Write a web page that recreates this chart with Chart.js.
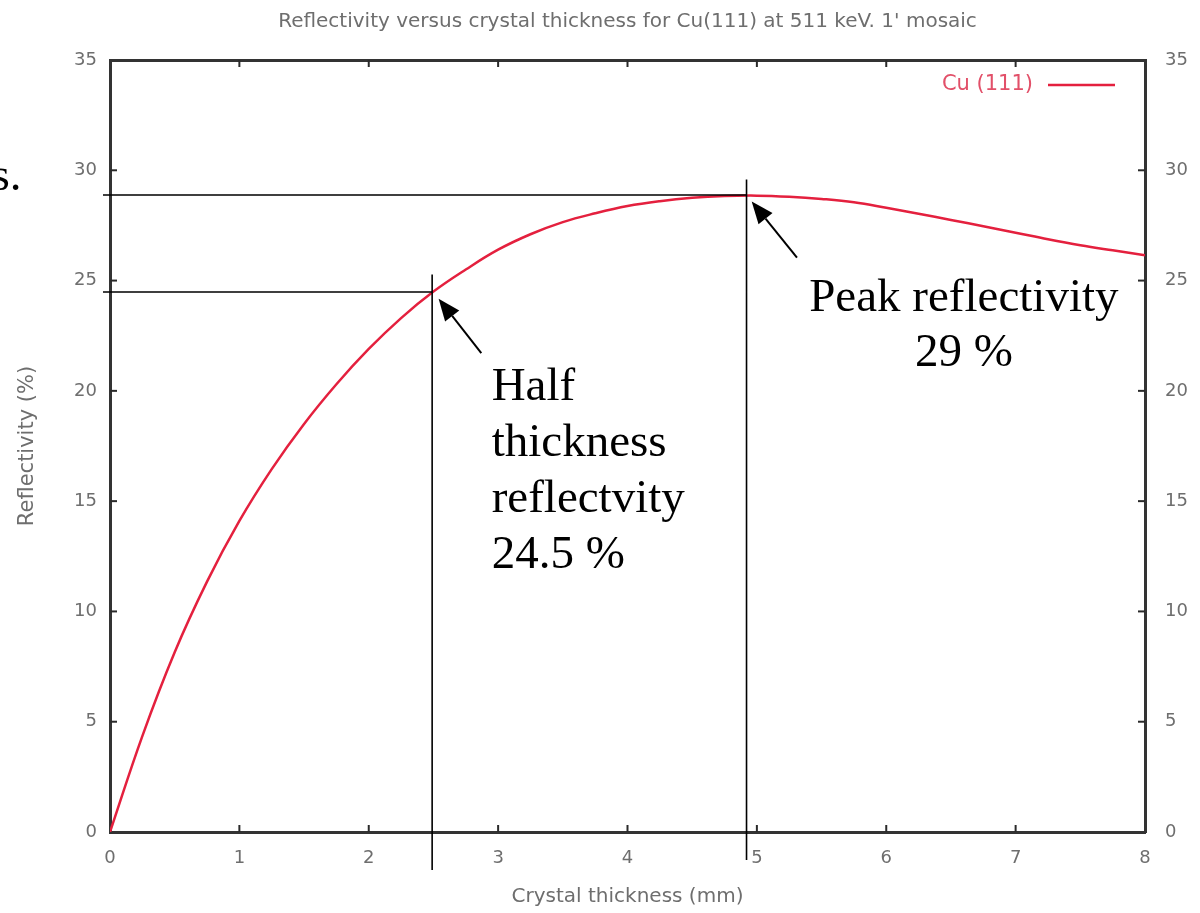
<!DOCTYPE html>
<html>
<head>
<meta charset="utf-8">
<script src="https://cdn.jsdelivr.net/npm/chart.js@4/dist/chart.umd.min.js"></script>
<style>
html,body{margin:0;padding:0;background:#fff;}
#wrap{width:1200px;height:913px;}
</style>
</head>
<body>
<div id="wrap"><canvas id="c" width="1200" height="913"></canvas></div>
<script>
// ---- data ----
const thickness = [0,0.25,0.5,0.75,1,1.25,1.5,1.75,2,2.25,2.5,2.75,3,3.25,3.5,3.75,4,4.25,4.5,4.75,5,5.25,5.5,5.75,6,6.25,6.5,6.75,7,7.25,7.5,7.75,8];
const reflectivity = [0,4.35,8.15,11.35,14.1,16.45,18.5,20.3,21.9,23.3,24.5,25.5,26.4,27.1,27.65,28.05,28.38,28.6,28.75,28.83,28.85,28.8,28.7,28.55,28.3,28.03,27.75,27.46,27.17,26.87,26.6,26.37,26.15];
const seriesLabel = 'Cu (111)';
const chartTitle = "Reflectivity versus crystal thickness for Cu(111) at 511 keV. 1' mosaic";
const xTitle = 'Crystal thickness (mm)';
const yTitle = 'Reflectivity (%)';
// marker points (thickness, reflectivity)
const halfPoint = [2.49, 24.48];
const peakPoint = [4.92, 28.88];
const halfText = ['Half','thickness','reflectvity','24.5 %'];
const peakText = ['Peak reflectivity','29 %'];

const sansFamily = 'DejaVu Sans, Verdana, sans-serif';
const axisFont = {family:sansFamily, size:18};
const gray = '#6e6e6e';
const red = 'rgb(228,32,62)';

const innerTicks = {
  id:'innerTicks',
  afterDraw(chart){
    const ctx = chart.ctx, a = chart.chartArea;
    ctx.save();
    ctx.strokeStyle = '#2a2a2a'; ctx.lineWidth = 2;
    const L = 7;
    for (const id of ['x','x2']) {
      const s = chart.scales[id];
      s.ticks.forEach(t => {
        if (t.value <= s.min || t.value >= s.max) return;
        const px = s.getPixelForValue(t.value);
        ctx.beginPath();
        if (id === 'x') { ctx.moveTo(px, a.bottom); ctx.lineTo(px, a.bottom - L); }
        else { ctx.moveTo(px, a.top); ctx.lineTo(px, a.top + L); }
        ctx.stroke();
      });
    }
    for (const id of ['y','y2']) {
      const s = chart.scales[id];
      s.ticks.forEach(t => {
        if (t.value <= s.min || t.value >= s.max) return;
        const py = s.getPixelForValue(t.value);
        ctx.beginPath();
        if (id === 'y') { ctx.moveTo(a.left, py); ctx.lineTo(a.left + L, py); }
        else { ctx.moveTo(a.right, py); ctx.lineTo(a.right - L, py); }
        ctx.stroke();
      });
    }
    ctx.restore();
  }
};

const keyLegend = {
  id:'keyLegend',
  afterDraw(chart){
    const ctx = chart.ctx, a = chart.chartArea;
    const ds = chart.data.datasets[0];
    const y = a.top + 25;
    const x1 = a.right - 30, x0 = x1 - 67;
    ctx.save();
    ctx.strokeStyle = ds.borderColor; ctx.lineWidth = 2.5;
    ctx.beginPath(); ctx.moveTo(x0, y); ctx.lineTo(x1, y); ctx.stroke();
    ctx.fillStyle = 'rgb(226,80,105)';
    ctx.font = '21px ' + sansFamily;
    ctx.textAlign = 'right'; ctx.textBaseline = 'middle';
    ctx.fillText(ds.label, x0 - 15, y);
    ctx.restore();
  }
};

function arrow(ctx, x0, y0, x1, y1){
  const ang = Math.atan2(y1 - y0, x1 - x0);
  const hl = 22, hw = 9;
  const bx = x1 - hl*Math.cos(ang), by = y1 - hl*Math.sin(ang);
  ctx.beginPath(); ctx.moveTo(x0, y0); ctx.lineTo(bx, by); ctx.stroke();
  ctx.beginPath();
  ctx.moveTo(x1, y1);
  ctx.lineTo(bx + hw*Math.sin(ang), by - hw*Math.cos(ang));
  ctx.lineTo(bx - hw*Math.sin(ang), by + hw*Math.cos(ang));
  ctx.closePath(); ctx.fill();
}

const notes = {
  id:'notes',
  afterDraw(chart){
    const ctx = chart.ctx, a = chart.chartArea;
    const X = v => chart.scales.x.getPixelForValue(v);
    const Y = v => chart.scales.y.getPixelForValue(v);
    ctx.save();
    ctx.strokeStyle = '#000'; ctx.fillStyle = '#000'; ctx.lineWidth = 1.6;
    // half thickness guide lines
    ctx.beginPath();
    ctx.moveTo(a.left - 7, Y(halfPoint[1])); ctx.lineTo(X(halfPoint[0]), Y(halfPoint[1]));
    ctx.moveTo(X(halfPoint[0]), Y(halfPoint[1] + 0.8)); ctx.lineTo(X(halfPoint[0]), Y(-1.72));
    // peak guide lines
    ctx.moveTo(a.left - 7, Y(peakPoint[1])); ctx.lineTo(X(peakPoint[0]), Y(peakPoint[1]));
    ctx.moveTo(X(peakPoint[0]), Y(peakPoint[1] + 0.7)); ctx.lineTo(X(peakPoint[0]), Y(-1.27));
    ctx.stroke();
    ctx.lineWidth = 2;
    arrow(ctx, X(halfPoint[0] + 0.38), Y(halfPoint[1] - 2.77), X(halfPoint[0] + 0.05), Y(halfPoint[1] - 0.3));
    arrow(ctx, X(peakPoint[0] + 0.39), Y(peakPoint[1] - 2.84), X(peakPoint[0] + 0.04), Y(peakPoint[1] - 0.3));
    // text
    ctx.font = '47px Liberation Serif, Times New Roman, serif';
    ctx.textBaseline = 'alphabetic';
    ctx.textAlign = 'left';
    const hb = [19.58, 17.04, 14.51, 11.97];
    halfText.forEach((t, i) => ctx.fillText(t, X(2.95), Y(hb[i])));
    ctx.textAlign = 'center';
    const pb = [23.62, 21.12];
    peakText.forEach((t, i) => ctx.fillText(t, X(6.6), Y(pb[i])));
    ctx.textAlign = 'right';
    ctx.fillText('s.', X(-0.684), Y(29.1));
    ctx.restore();
  }
};

const borderOpt = {color:'#333', width:3};
new Chart(document.getElementById('c'), {
  type:'line',
  data:{
    labels: thickness,
    datasets:[{
      label: seriesLabel,
      data: thickness.map((t, i) => ({x:t, y:reflectivity[i]})),
      borderColor: red,
      borderWidth: 2.5,
      pointRadius: 0,
      tension: 0.4,
      fill:false
    }]
  },
  options:{
    responsive:false,
    animation:false,
    layout:{padding:0},
    plugins:{
      legend:{display:false},
      tooltip:{enabled:false},
      title:{display:true, fullSize:false, text:chartTitle, color:gray, font:{family:sansFamily, size:20, weight:'normal'}, padding:{top:10,bottom:4}}
    },
    scales:{
      x:{type:'linear', position:'bottom', min:0, max:8,
         ticks:{stepSize:1, color:gray, font:axisFont, padding:16},
         grid:{drawOnChartArea:false, drawTicks:false},
         border:borderOpt,
         title:{display:true, text:xTitle, color:gray, font:{family:sansFamily, size:20}, padding:{top:0,bottom:4}},
         afterFit(s){ s.height = 81; }},
      x2:{type:'linear', position:'top', min:0, max:8,
         ticks:{stepSize:1, display:false},
         grid:{drawOnChartArea:false, drawTicks:false},
         border:borderOpt,
         afterFit(s){ s.height = 22; }},
      y:{type:'linear', position:'left', min:0, max:35,
         ticks:{stepSize:5, color:gray, font:axisFont, padding:13},
         grid:{drawOnChartArea:false, drawTicks:false},
         border:borderOpt,
         title:{display:true, text:yTitle, color:gray, font:{family:sansFamily, size:21}, padding:{top:15,bottom:0}},
         afterFit(s){ s.width = 110; }},
      y2:{type:'linear', position:'right', min:0, max:35,
         ticks:{stepSize:5, color:gray, font:axisFont, padding:20},
         grid:{drawOnChartArea:false, drawTicks:false},
         border:borderOpt,
         afterFit(s){ s.width = 55; }}
    }
  },
  plugins:[innerTicks, keyLegend, notes]
});
</script>
</body>
</html>
